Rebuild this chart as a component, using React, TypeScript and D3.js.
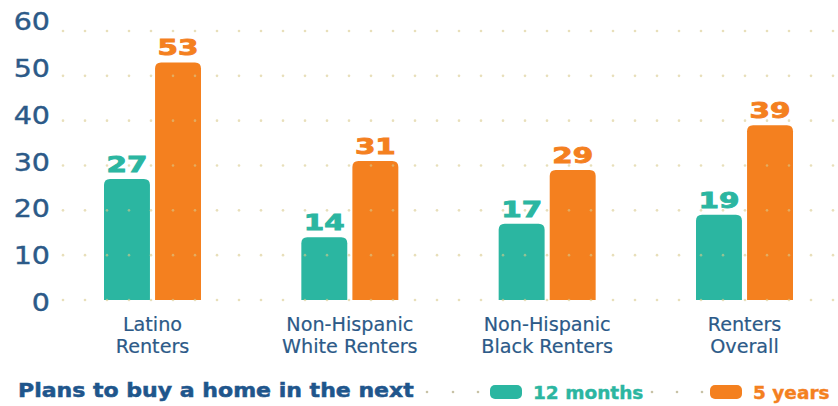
import * as d3 from "d3"

// chart data
const groups = ["Latino Renters", "Non-Hispanic White Renters", "Non-Hispanic Black Renters", "Renters Overall"]
const groupLines = [
  ["Latino", "Renters"],
  ["Non-Hispanic", "White Renters"],
  ["Non-Hispanic", "Black Renters"],
  ["Renters", "Overall"],
]
const series = ["12 months", "5 years"]
const months12 = [27, 14, 17, 19]
const years5 = [53, 31, 29, 39]
const yTicks = [0, 10, 20, 30, 40, 50, 60]

const W = 838
const H = 406
const TEAL = "#2bb6a1"
const ORANGE = "#f4801f"
const BLUE = "#2c5a88"
const TITLE_BLUE = "#1f568c"

function topRoundedBar(x: number, y: number, w: number, h: number, r: number) {
  const rr = Math.min(r, h, w / 2)
  return `M${x},${y + h}V${y + rr}Q${x},${y} ${x + rr},${y}H${x + w - rr}Q${x + w},${y} ${x + w},${y + rr}V${y + h}Z`
}

export default function App() {
  const y = d3.scaleLinear().domain([0, 60]).range([300, 31])
  // tick labels sit a little off their rows in the original
  const yLabel = y.copy().range([302, 21.5])

  const x0 = d3.scalePoint<string>().domain(groups).range([152.5, 744.5])
  const x1 = d3.scaleBand<string>().domain(series).range([-48.5, 48.5]).paddingInner(0.1)

  const values = [months12, years5]
  const colors = d3.scaleOrdinal<string, string>().domain(series).range([TEAL, ORANGE])

  const dotXs = d3.range(63, 838, 22)

  return (
    <svg
      width={W}
      height={H}
      style={{ position: "absolute", left: 0, top: 0, background: "#fff" }}
      fontFamily="'DejaVu Sans', sans-serif"
    >
      {/* bars */}
      {groups.map((g, gi) =>
        series.map((s, si) => {
          const v = values[si][gi]
          const bx = (x0(g) as number) + (x1(s) as number)
          const by = y(v)
          return (
            <path
              key={g + s}
              d={topRoundedBar(bx, by, x1.bandwidth(), y(0) - by, 6)}
              fill={colors(s)}
            />
          )
        }),
      )}

      {/* dotted grid rows */}
      {yTicks.map((t) => (
        <g key={"row" + t}>
          {dotXs.map((dx) => (
            <circle key={dx} cx={dx} cy={y(t)} r={1.3} fill="#d9ca8c" opacity={0.6} />
          ))}
        </g>
      ))}

      {/* y tick labels */}
      {yTicks.map((t) => (
        <text
          key={"yl" + t}
          transform={`translate(50,${yLabel(t)}) scale(1.12,1)`}
          textAnchor="end"
          dominantBaseline="central"
          fontSize={25.5}
          fill={BLUE}
          stroke={BLUE}
          strokeWidth={0.4}
        >
          {t}
        </text>
      ))}

      {/* value labels */}
      {groups.map((g, gi) =>
        series.map((s, si) => {
          const v = values[si][gi]
          const cx = (x0(g) as number) + (x1(s) as number) + x1.bandwidth() / 2
          return (
            <text
              key={"v" + g + s}
              transform={`translate(${cx},${y(v) - 7}) scale(1.4,1)`}
              textAnchor="middle"
              fontSize={21}
              fontWeight="bold"
              fill={colors(s)}
              stroke={colors(s)}
              strokeWidth={0.9}
            >
              {v}
            </text>
          )
        }),
      )}

      {/* category labels, two lines each */}
      {groups.map((g, gi) =>
        groupLines[gi].map((line, li) => (
          <text
            key={"c" + g + li}
            x={x0(g)}
            y={330.5 + li * 22.3}
            textAnchor="middle"
            fontSize={19.2}
            fill={BLUE}
            stroke={BLUE}
            strokeWidth={0.2}
          >
            {line}
          </text>
        )),
      )}

      {/* legend */}
      <text
        transform="translate(18,397) scale(1.16,1)"
        fontSize={19}
        fontWeight="bold"
        fill={TITLE_BLUE}
        stroke={TITLE_BLUE}
        strokeWidth={0.5}
      >
        Plans to buy a home in the next
      </text>
      {[427, 453, 478, 652, 677, 702].map((dx) => (
        <circle key={"ld" + dx} cx={dx} cy={392} r={1.3} fill="#c8c2a6" />
      ))}
      {series.map((s, i) => {
        const sx = i === 0 ? 490 : 710
        return (
          <g key={"leg" + s}>
            <rect x={sx} y={385} width={32} height={14} rx={5} fill={colors(s)} />
            <text
              x={sx + 43}
              y={399}
              fontSize={18.5}
              fontWeight="bold"
              fill={colors(s)}
              stroke={colors(s)}
              strokeWidth={0.4}
            >
              {s}
            </text>
          </g>
        )
      })}
    </svg>
  )
}
